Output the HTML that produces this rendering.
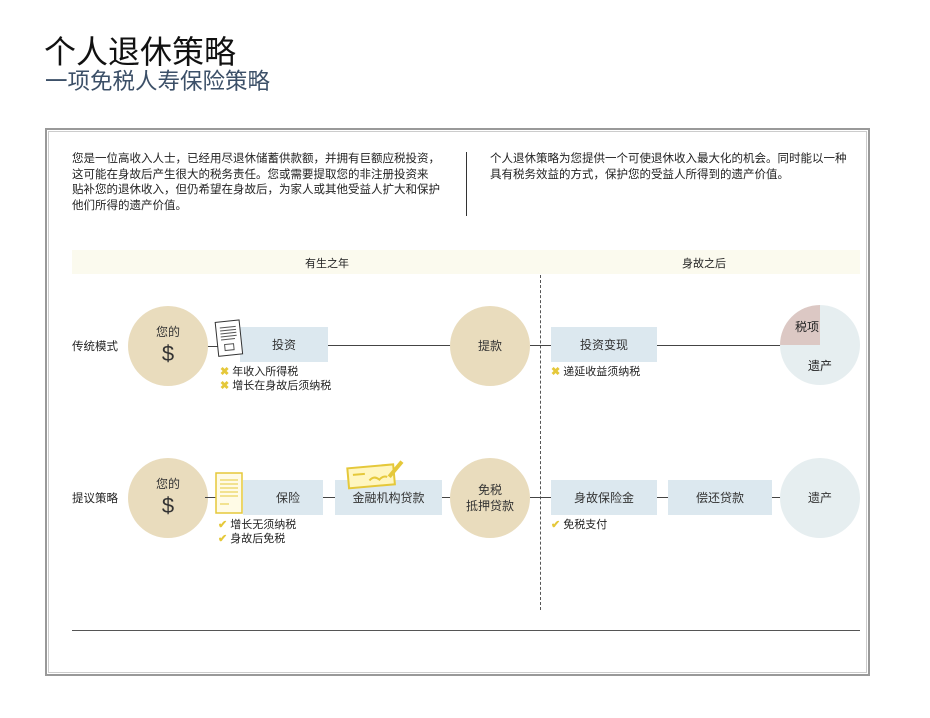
<!DOCTYPE html>
<html><head><meta charset="utf-8"><style>
*{margin:0;padding:0;box-sizing:border-box}
body{width:930px;height:718px;background:#fff;position:relative;overflow:hidden;font-family:"Liberation Sans","Noto Sans CJK SC",sans-serif;color:#222}
.a{position:absolute}
.c{position:absolute;border-radius:50%;background:#e9dcbd;display:flex;flex-direction:column;align-items:center;justify-content:center;font-size:12px;color:#333;text-align:center;line-height:16px}
.b{position:absolute;background:#dce8ef;display:flex;align-items:center;justify-content:center;font-size:12px;color:#333}
.l{position:absolute;height:1px;background:#444}
.t{position:absolute;font-size:11px;color:#222;line-height:14px}
.x{color:#e5c83a;font-weight:bold;margin-right:3px}
</style></head><body>
<div class="a" style="left:44px;top:34px;font-size:32px;line-height:36px;color:#111">个人退休策略</div>
<div class="a" style="left:45px;top:69px;font-size:22.5px;line-height:26px;color:#3c5068">一项免税人寿保险策略</div>

<div class="a" style="left:45px;top:128px;width:825px;height:548px;border:2px solid #999;"></div>
<div class="a" style="left:48px;top:131px;width:819px;height:542px;border:1px solid #ccc;"></div>

<div class="a" style="left:72px;top:152px;white-space:nowrap;font-size:11.5px;line-height:15.5px;color:#222">您是一位高收入人士，已经用尽退休储蓄供款额，并拥有巨额应税投资，<br>这可能在身故后产生很大的税务责任。您或需要提取您的非注册投资来<br>贴补您的退休收入，但仍希望在身故后，为家人或其他受益人扩大和保护<br>他们所得的遗产价值。</div>
<div class="a" style="left:466px;top:152px;width:1px;height:64px;background:#333"></div>
<div class="a" style="left:490px;top:152px;white-space:nowrap;font-size:11.5px;line-height:15.5px;color:#222">个人退休策略为您提供一个可使退休收入最大化的机会。同时能以一种<br>具有税务效益的方式，保护您的受益人所得到的遗产价值。</div>

<div class="a" style="left:72px;top:250px;width:788px;height:24px;background:#fbfaee"></div>
<div class="a" style="left:305px;top:255px;font-size:11px">有生之年</div>
<div class="a" style="left:682px;top:255px;font-size:11px">身故之后</div>
<div class="a" style="left:540px;top:275px;height:335px;border-left:1px dashed #555"></div>

<!-- row 1 -->
<div class="a" style="left:72px;top:338px;font-size:11.5px">传统模式</div>
<div class="l" style="left:205px;top:346px;width:20px"></div>
<div class="c" style="left:128px;top:306px;width:80px;height:80px"><div>您的</div><div style="font-size:22px;line-height:28px">$</div></div>
<div class="b" style="left:240px;top:327px;width:88px;height:35px">投资</div>
<svg class="a" style="left:213px;top:318px" width="34" height="42"><g transform="rotate(-6 17 21)"><rect x="4" y="3" width="24" height="34" fill="#fff" stroke="#333"/><g stroke="#555"><line x1="8" y1="9" x2="24" y2="9"/><line x1="8" y1="12" x2="24" y2="12"/><line x1="8" y1="15" x2="24" y2="15"/><line x1="8" y1="18" x2="24" y2="18"/><line x1="8" y1="21" x2="22" y2="21"/></g><rect x="11" y="26" width="9" height="6" fill="none" stroke="#555"/></g></svg>
<div class="t" style="left:220px;top:365px"><span class="x">✖</span>年收入所得税<br><span class="x">✖</span>增长在身故后须纳税</div>
<div class="l" style="left:328px;top:345px;width:125px"></div>
<div class="c" style="left:450px;top:306px;width:80px;height:80px">提款</div>
<div class="l" style="left:530px;top:345px;width:21px"></div>
<div class="b" style="left:551px;top:327px;width:106px;height:35px">投资变现</div>
<div class="t" style="left:551px;top:365px"><span class="x">✖</span>递延收益须纳税</div>
<div class="l" style="left:657px;top:345px;width:125px"></div>
<div class="a" style="left:780px;top:305px;width:80px;height:80px;border-radius:50%;background:conic-gradient(#e6eef0 0 75%,#dcc8c4 75% 100%)"></div>
<div class="a" style="left:795px;top:318px;font-size:12px">税项</div>
<div class="a" style="left:808px;top:357px;font-size:12px">遗产</div>

<!-- row 2 -->
<div class="a" style="left:72px;top:490px;font-size:11.5px">提议策略</div>
<div class="c" style="left:128px;top:458px;width:80px;height:80px"><div>您的</div><div style="font-size:22px;line-height:28px">$</div></div>
<div class="l" style="left:205px;top:497px;width:20px"></div>
<div class="b" style="left:243px;top:480px;width:80px;height:35px;padding-left:10px">保险</div>
<svg class="a" style="left:213px;top:470px" width="32" height="46"><rect x="3" y="3" width="26" height="40" fill="#fffbe6" stroke="#e5c83a" stroke-width="1.5"/><g stroke="#e5c83a"><line x1="7" y1="10" x2="25" y2="10"/><line x1="7" y1="14" x2="25" y2="14"/><line x1="7" y1="18" x2="25" y2="18"/><line x1="7" y1="22" x2="25" y2="22"/><line x1="7" y1="26" x2="25" y2="26"/><line x1="7" y1="34" x2="16" y2="34"/></g></svg>
<div class="t" style="left:218px;top:518px"><span class="x">✔</span>增长无须纳税<br><span class="x">✔</span>身故后免税</div>
<div class="l" style="left:323px;top:497px;width:12px"></div>
<div class="b" style="left:335px;top:480px;width:107px;height:35px">金融机构贷款</div>
<svg class="a" style="left:345px;top:460px" width="62" height="30"><g transform="rotate(-5 30 15)"><rect x="3" y="6" width="46" height="20" fill="#fff6c0" stroke="#e5c83a" stroke-width="2"/><line x1="8" y1="13" x2="20" y2="13" stroke="#e5c83a" stroke-width="2"/><path d="M24 20 q5 -5 10 0 q4 -4 8 -2" fill="none" stroke="#e5c83a" stroke-width="2"/><line x1="44" y1="18" x2="58" y2="4" stroke="#e5c83a" stroke-width="4"/></g></svg>
<div class="l" style="left:442px;top:497px;width:10px"></div>
<div class="c" style="left:450px;top:458px;width:80px;height:80px"><div>免税</div><div>抵押贷款</div></div>
<div class="l" style="left:530px;top:497px;width:21px"></div>
<div class="b" style="left:551px;top:480px;width:106px;height:35px">身故保险金</div>
<div class="t" style="left:551px;top:518px"><span class="x">✔</span>免税支付</div>
<div class="l" style="left:657px;top:497px;width:11px"></div>
<div class="b" style="left:668px;top:480px;width:104px;height:35px">偿还贷款</div>
<div class="l" style="left:772px;top:497px;width:10px"></div>
<div class="c" style="left:780px;top:458px;width:80px;height:80px;background:#e6eef0">遗产</div>

<div class="a" style="left:72px;top:630px;width:788px;height:1px;background:#555"></div>
</body></html>
